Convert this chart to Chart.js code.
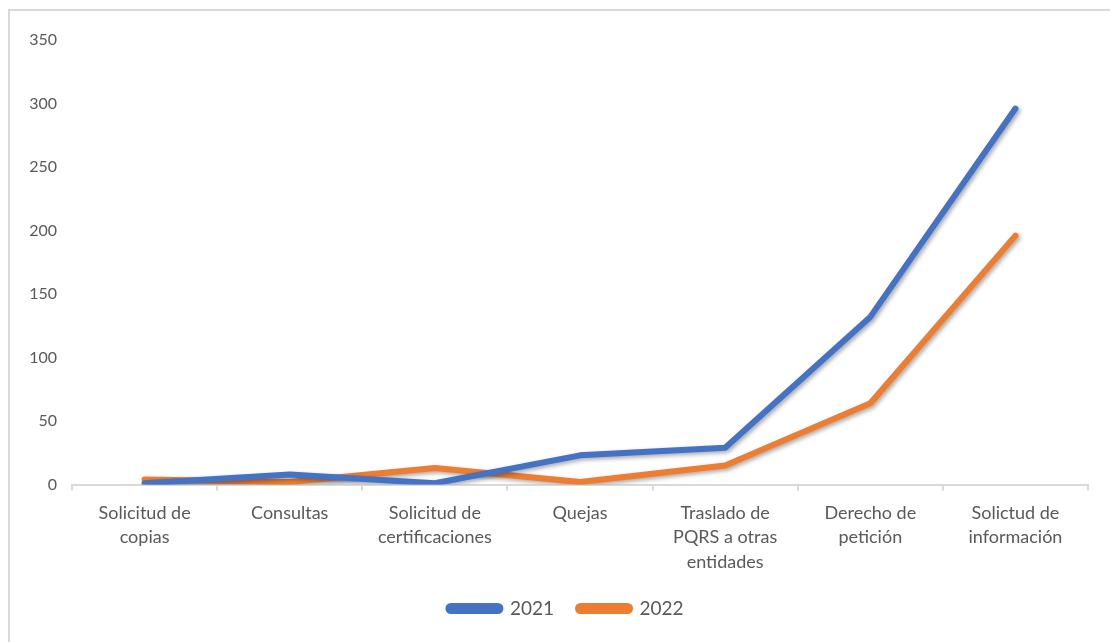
<!DOCTYPE html>
<html lang="es">
<head>
    <meta charset="UTF-8">
    <title>PQRS 2021 - 2022</title>
    <script src="https://cdn.jsdelivr.net/npm/chart.js"></script>
    <style>
        html, body { margin: 0; padding: 0; background: #fff; overflow: hidden; }
        .frame { position: absolute; left: 8px; top: 9px; width: 1120px; height: 660px; border: 2px solid #d9d9d9; }
        .wrap { position: absolute; left: 0; top: 0; width: 1110px; height: 642px; }
    </style>
</head>
<body>
    <div class="frame"></div>
    <div class="wrap"><canvas id="chart"></canvas></div>

<script>
    // Categorías y valores
    const categories = [
        ['Solicitud de', 'copias'],
        'Consultas',
        ['Solicitud de', 'certificaciones'],
        'Quejas',
        ['Traslado de', 'PQRS a otras', 'entidades'],
        ['Derecho de', 'petición'],
        ['Solictud de', 'información']
    ];
    const values2021 = [1, 8, 1, 23, 29, 132, 296];
    const values2022 = [4, 2, 13, 2, 15, 64, 196];
    const yTicks = [0, 50, 100, 150, 200, 250, 300, 350];

    const textColor = '#595959';
    const fontFamily = 'Lato, "Noto Sans", sans-serif';

    // sombra suave bajo las líneas, como en Excel
    const lineShadow = {
        id: 'lineShadow',
        beforeDatasetDraw(chart) {
            const ctx = chart.ctx;
            ctx.save();
            ctx.shadowColor = 'rgba(0,0,0,0.35)';
            ctx.shadowBlur = 4;
            ctx.shadowOffsetX = 2;
            ctx.shadowOffsetY = 2;
        },
        afterDatasetDraw(chart) {
            chart.ctx.restore();
        }
    };

    // la leyenda del original está un poco desplazada a la derecha
    const legendShift = {
        id: 'legendShift',
        afterLayout(chart) {
            chart.legend.left += 44;
        }
    };

    new Chart(document.getElementById('chart'), {
        type: 'line',
        data: {
            labels: categories,
            datasets: [{
                label: '2021',
                data: values2021,
                borderColor: '#4472C4',
                backgroundColor: '#4472C4',
                borderWidth: 6,
                pointRadius: 0,
                borderCapStyle: 'round',
                borderJoinStyle: 'round',
                tension: 0
            }, {
                label: '2022',
                data: values2022,
                borderColor: '#ED7D31',
                backgroundColor: '#ED7D31',
                borderWidth: 6,
                pointRadius: 0,
                borderCapStyle: 'round',
                borderJoinStyle: 'round',
                tension: 0
            }]
        },
        plugins: [lineShadow, legendShift],
        options: {
            responsive: true,
            maintainAspectRatio: false,
            animation: false,
            layout: { padding: { left: 0, right: 22, top: 40, bottom: 14 } },
            plugins: {
                tooltip: { enabled: false },
                legend: {
                    position: 'bottom',
                    labels: {
                        color: textColor,
                        font: { family: fontFamily, size: 19 },
                        boxWidth: 52,
                        boxHeight: 5,
                        useBorderRadius: true,
                        borderRadius: 2.5,
                        padding: 24
                    }
                }
            },
            scales: {
                x: {
                    offset: true,
                    afterFit(scale) { scale.height -= 9; },
                    grid: {
                        offset: true,
                        drawOnChartArea: false,
                        drawTicks: true,
                        tickLength: 6,
                        color: '#d9d9d9',
                        lineWidth: 2
                    },
                    border: { color: '#d9d9d9', width: 2 },
                    ticks: {
                        color: textColor,
                        font: { family: fontFamily, size: 18, lineHeight: 1.36 },
                        padding: 10,
                        maxRotation: 0,
                        autoSkip: false
                    }
                },
                y: {
                    min: 0,
                    max: 350,
                    afterFit(scale) { scale.width = 72; },
                    afterBuildTicks(scale) { scale.ticks = yTicks.map(v => ({ value: v })); },
                    grid: { display: false, drawTicks: false },
                    border: { display: false },
                    ticks: {
                        color: textColor,
                        font: { family: fontFamily, size: 16 },
                        padding: 15
                    }
                }
            }
        }
    });
</script>
</body>
</html>
